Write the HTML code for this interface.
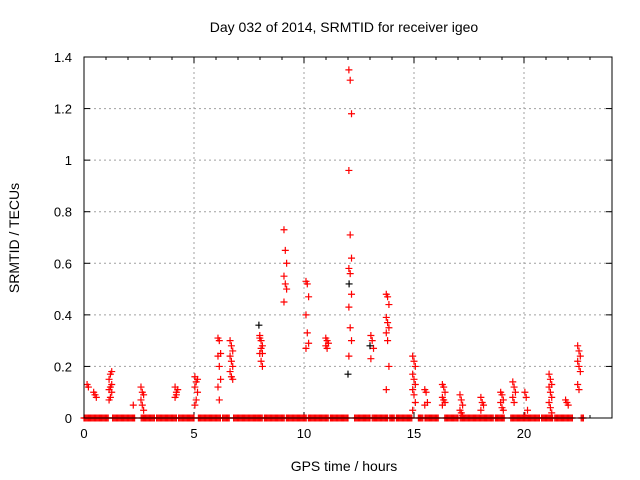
<!DOCTYPE html>
<html><head><meta charset="utf-8"><style>
html,body{margin:0;padding:0;background:#fff;}
svg{display:block;font-family:"Liberation Sans",sans-serif;}
</style></head><body>
<svg id="chart" width="640" height="480">
<text x="344" y="32" font-size="14" text-anchor="middle">Day 032 of 2014, SRMTID for receiver igeo</text>
<text x="344" y="471" font-size="14" text-anchor="middle">GPS time / hours</text>
<text transform="translate(19,238) rotate(-90)" font-size="14" text-anchor="middle">SRMTID / TECUs</text>
<g id="grid"></g><g id="ticks"></g><g id="marks"></g>
<rect x="84" y="57" width="528" height="361" fill="none" stroke="#000" stroke-width="1"/>
</svg>
<script>
const xTicks=[0,5,10,15,20];
const yTicks=[0,0.2,0.4,0.6,0.8,1,1.2,1.4];
const yTickLabels=["0","0.2","0.4","0.6","0.8","1","1.2","1.4"];
const zeroRanges=[[0,1.1],[1.3,2.3],[2.6,3.2],[3.3,4.2],[4.3,5.0],[5.2,6.2],[6.3,6.6],[6.8,7.9],[7.9,8.1],[8.2,9.1],[9.2,10.1],[10.2,11.1],[11.2,12.0],[12.3,13.0],[13.1,13.8],[13.9,14.1],[14.2,14.9],[15.2,15.4],[15.5,16.1],[16.4,17.0],[17.1,18.6],[18.7,19.1],[19.4,20.7],[20.8,21.3],[21.4,22.2],[22.6,22.7]];
const clusterTimes=[0.2,0.5,1.2,2.3,2.65,4.2,5.1,6.15,6.7,8.05,9.15,10.15,11.05,12.1,13.1,13.8,15.0,15.55,16.35,17.15,18.1,19.0,19.55,20.1,21.2,21.95,22.5];
const clusterValues=[
[0.13,0.12],[0.1,0.09,0.08],[0.07,0.08,0.1,0.11,0.12,0.13,0.15,0.17,0.18],[0.05],
[0.12,0.1,0.09,0.07,0.05,0.03],[0.08,0.1,0.11,0.12,0.09],[0.05,0.07,0.1,0.12,0.14,0.15,0.16],
[0.31,0.3,0.25,0.24,0.2,0.15,0.12,0.07],[0.3,0.28,0.26,0.24,0.22,0.2,0.18,0.16,0.15],
[0.32,0.3,0.28,0.25,0.22,0.2,0.31,0.27,0.25],[0.73,0.65,0.6,0.55,0.52,0.5,0.45],
[0.53,0.52,0.47,0.4,0.33,0.29,0.27],[0.31,0.3,0.29,0.28,0.27],
[1.35,1.31,1.18,0.96,0.71,0.62,0.58,0.56,0.48,0.43,0.35,0.3,0.24],[0.32,0.3,0.27,0.23],
[0.48,0.47,0.44,0.39,0.37,0.35,0.33,0.3,0.2,0.11],[0.24,0.22,0.2,0.17,0.15,0.13,0.11,0.09,0.06,0.03],
[0.11,0.1,0.06,0.05],[0.13,0.12,0.1,0.08,0.07,0.06,0.05],[0.09,0.07,0.05,0.03,0.02,0.01],
[0.08,0.06,0.05,0.03],[0.1,0.09,0.07,0.06,0.04,0.03],[0.14,0.12,0.1,0.08,0.06],[0.1,0.08,0.03,0.01],
[0.17,0.15,0.13,0.12,0.1,0.08,0.06,0.04,0.02],[0.07,0.06,0.05],[0.28,0.26,0.24,0.22,0.2,0.18,0.13,0.11]];
const blackTimes=[7.95,12.05,12.0,13.0];
const blackValues=[0.36,0.52,0.17,0.28];
const X0=84,X1=612,Y0=418,Y1=57,XMAX=24,YMAX=1.4;
function sx(t){return X0+(X1-X0)*t/XMAX;}
function sy(v){return Y0-(Y0-Y1)*v/YMAX;}
const NS="http://www.w3.org/2000/svg";
const grid=document.getElementById('grid'),ticks=document.getElementById('ticks'),marks=document.getElementById('marks');
function mk(tag,attrs,parent){const e=document.createElementNS(NS,tag);for(const k in attrs)e.setAttribute(k,attrs[k]);parent.appendChild(e);return e;}
xTicks.forEach(t=>{const x=sx(t);
 if(t>0){const g=mk('line',{x1:x,x2:x,y1:Y1,y2:Y0,stroke:'#a0a0a0','stroke-dasharray':'2,3'},grid);
 
 }
 mk('line',{x1:x,x2:x,y1:Y0,y2:Y0-6,stroke:'#000'},ticks);
 mk('line',{x1:x,x2:x,y1:Y1,y2:Y1+6,stroke:'#000'},ticks);
 const l=mk('text',{x:x,y:Y0+20,'font-size':13,'text-anchor':'middle'},ticks);l.textContent=t;
 
 
});
for(let t=1;t<XMAX;t++){ if(t%5){mk('line',{x1:sx(t),x2:sx(t),y1:Y0,y2:Y0-3,stroke:'#000'},ticks);mk('line',{x1:sx(t),x2:sx(t),y1:Y1,y2:Y1+3,stroke:'#000'},ticks);} }
yTicks.forEach((v,i)=>{const y=sy(v);
 if(v>0&&v<YMAX){const g=mk('line',{x1:X0,x2:X1,y1:y,y2:y,stroke:'#a0a0a0','stroke-dasharray':'2,3'},grid);
 
 }
 mk('line',{x1:X0,x2:X0+6,y1:y,y2:y,stroke:'#000'},ticks);
 mk('line',{x1:X1,x2:X1-6,y1:y,y2:y,stroke:'#000'},ticks);
 const l=mk('text',{x:X0-12,y:y+5,'font-size':13,'text-anchor':'end'},ticks);l.textContent=yTickLabels[i];
 
 
});
function plus(t,v,c){const x=sx(t),y=sy(v);
 const p=mk('path',{d:`M${x-3.5},${y}h7M${x},${y-3.5}v7`,stroke:c,'stroke-width':1.2},marks);
 
 }
zeroRanges.forEach(r=>{for(let t=r[0];t<=r[1]+1e-9;t+=0.05)plus(t,0,'#ff0000');});
clusterTimes.forEach((t,i)=>{const vs=clusterValues[i];vs.forEach((v,j)=>{const dt=(j%3-1)*0.06;plus(t+dt,v,'#ff0000');});});
blackTimes.forEach((t,i)=>plus(t,blackValues[i],'#000'));
</script>
</body></html>
